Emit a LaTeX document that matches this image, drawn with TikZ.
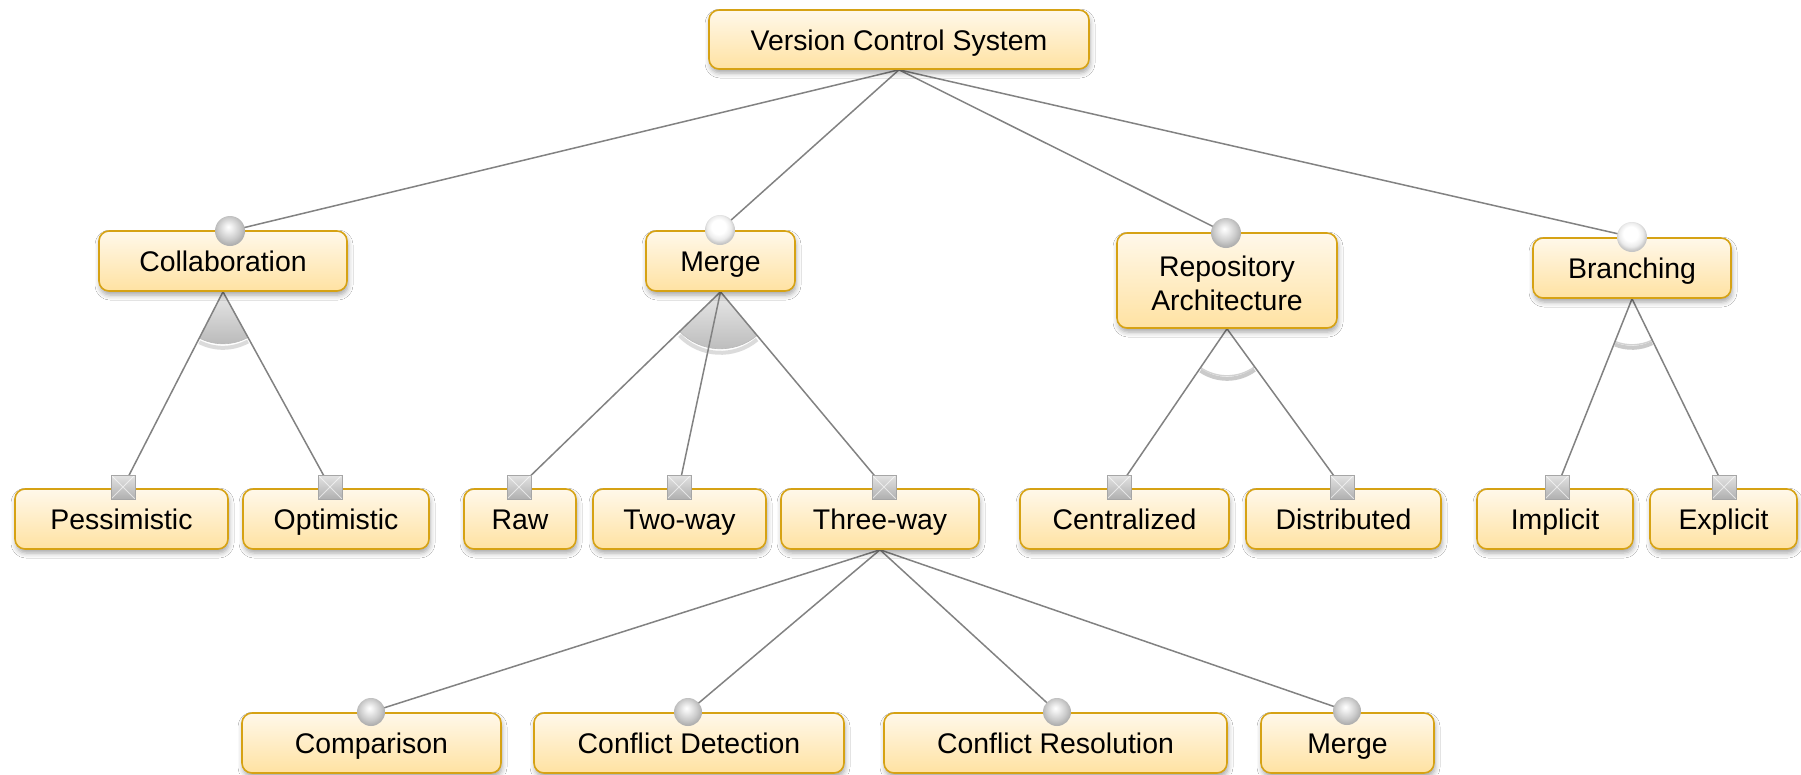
\documentclass[tikz,border=0pt]{standalone}
\usepackage{fontspec}
\setmainfont{Liberation Sans}
\usetikzlibrary{calc,shadows.blur,backgrounds}

\definecolor{featborder}{RGB}{214,162,20}
\definecolor{feattop}{RGB}{255,248,234}
\definecolor{featbot}{RGB}{255,226,162}
\definecolor{linkgray}{RGB}{130,130,130}

% shaded marker balls, lit from the top
\pgfdeclareradialshading{fmmandball}{\pgfpoint{-3bp}{7bp}}{%
  color(0bp)=(white); color(6bp)=(gray!12); color(18bp)=(gray!40);
  color(26bp)=(gray!62); color(50bp)=(gray!62)}
\pgfdeclareradialshading{fmoptball}{\pgfpoint{-3bp}{7bp}}{%
  color(0bp)=(white); color(12bp)=(white); color(20bp)=(gray!15);
  color(26bp)=(gray!45); color(50bp)=(gray!45)}

% filled group sector: apex, first child, last child, radius
\newcommand\fmsector[4]{%
  \path[sectorshadow] let \p1=($(#2)-(#1)$), \p2=($(#3)-(#1)$),
      \n1={atan2(\y1,\x1)}, \n2={atan2(\y2,\x2)} in
      ($(#1)+(\n1:#4)+(0,4)$) arc[start angle=\n1, end angle=\n2, radius=#4];
  \path[sectorfill] let \p1=($(#2)-(#1)$), \p2=($(#3)-(#1)$),
      \n1={atan2(\y1,\x1)}, \n2={atan2(\y2,\x2)} in
      (#1) -- ++(\n1:#4) arc[start angle=\n1, end angle=\n2, radius=#4] -- cycle;}
% open group arc: apex, first child, last child, radius
\newcommand\fmarc[4]{%
  \path[arcshadow] let \p1=($(#2)-(#1)$), \p2=($(#3)-(#1)$),
      \n1={atan2(\y1,\x1)}, \n2={atan2(\y2,\x2)} in
      ($(#1)+(\n1:#4)+(0,3)$) arc[start angle=\n1, end angle=\n2, radius=#4];
  \path[arcline] let \p1=($(#2)-(#1)$), \p2=($(#3)-(#1)$),
      \n1={atan2(\y1,\x1)}, \n2={atan2(\y2,\x2)} in
      ($(#1)+(\n1:#4)$) arc[start angle=\n1, end angle=\n2, radius=#4];}

\begin{document}
\begin{tikzpicture}[x=1pt,y=-1pt,
  feat/.style={draw=featborder, line width=1.6pt, rounded corners=10pt,
    top color=feattop, bottom color=featbot, minimum height=60pt,
    inner sep=0pt, align=center, font=\fontsize{28.4}{34}\selectfont,
    blur shadow={shadow xshift=1pt, shadow yshift=-4pt,
      shadow blur radius=5pt, shadow opacity=35}},
  oneline/.style={text height=24pt, text depth=2.5pt},
  twolines/.style={text height=61.5pt, text depth=2.5pt},
  link/.style={draw=linkgray, line width=1.5pt},
  mandball/.style={circle, inner sep=0pt, minimum size=30pt, shading=fmmandball},
  optball/.style={circle, inner sep=0pt, minimum size=30pt, shading=fmoptball},
  sqmark/.style={rectangle, inner sep=0pt, minimum size=24pt,
    draw=gray!70, line width=0.6pt, top color=gray!22, bottom color=gray!62,
    path picture={\draw[white, opacity=0.6, line width=0.8pt]
      (path picture bounding box.north west) -- (path picture bounding box.south east)
      (path picture bounding box.north east) -- (path picture bounding box.south west);}},
  sectorfill/.style={top color=gray!18, bottom color=gray!55, draw=gray!55, line width=0.6pt},
  sectorshadow/.style={draw=gray!50, line width=4pt, opacity=0.55},
  arcline/.style={draw=gray!35, line width=1.4pt},
  arcshadow/.style={draw=gray!55, line width=4pt, opacity=0.75}
]
\useasboundingbox (0,0) rectangle (1801,774);

% features
\node[feat, oneline, minimum width=380pt, minimum height=59pt] (root) at (899,39.5) {Version Control System};

\node[feat, oneline, minimum width=248pt] (collab) at (223,261) {Collaboration};
\node[feat, oneline, minimum width=149pt] (merge)  at (720.5,261) {Merge};
\node[feat, twolines, minimum width=220pt, minimum height=95pt] (repo) at (1227,280.5) {Repository\\Architecture};
\node[feat, oneline, minimum width=198pt] (branch) at (1632,268) {Branching};

\node[feat, oneline, minimum width=213pt] (pess)     at (121.5,519) {Pessimistic};
\node[feat, oneline, minimum width=186pt] (optim)    at (336,519)   {Optimistic};
\node[feat, oneline, minimum width=112pt] (raw)      at (520,519)   {Raw};
\node[feat, oneline, minimum width=173pt] (twoway)   at (679.5,519) {Two-way};
\node[feat, oneline, minimum width=198pt] (threeway) at (880,519)   {Three-way};
\node[feat, oneline, minimum width=209pt] (central)  at (1124.5,519) {Centralized};
\node[feat, oneline, minimum width=195pt] (distrib)  at (1343.5,519) {Distributed};
\node[feat, oneline, minimum width=156pt] (implicit) at (1555,519)  {Implicit};
\node[feat, oneline, minimum width=147pt] (explicit) at (1723.5,519) {Explicit};

\node[feat, oneline, minimum width=259pt] (comp)   at (371.5,743)  {Comparison};
\node[feat, oneline, minimum width=310pt] (cdet)   at (689,743)    {Conflict Detection};
\node[feat, oneline, minimum width=343pt] (cres)   at (1055.5,743) {Conflict Resolution};
\node[feat, oneline, minimum width=173pt] (mergeb) at (1347.5,743) {Merge};

% mandatory / optional markers
\node[mandball] (bcollab) at (230,231) {};
\node[optball]  (bmerge)  at (720,230) {};
\node[mandball] (brepo)   at (1226,233) {};
\node[optball]  (bbranch) at (1632,237) {};

\node[sqmark] (spess)     at (123,487) {};
\node[sqmark] (soptim)    at (330,487) {};
\node[sqmark] (sraw)      at (519,487) {};
\node[sqmark] (stwoway)   at (679,487) {};
\node[sqmark] (sthreeway) at (884,487) {};
\node[sqmark] (scentral)  at (1119,487) {};
\node[sqmark] (sdistrib)  at (1342,487) {};
\node[sqmark] (simplicit) at (1557,487) {};
\node[sqmark] (sexplicit) at (1724,487) {};

\node[mandball, minimum size=28pt] (bcomp)   at (371,712) {};
\node[mandball, minimum size=28pt] (bcdet)   at (688,712) {};
\node[mandball, minimum size=28pt] (bcres)   at (1057,712) {};
\node[mandball, minimum size=28pt] (bmergeb) at (1347,711) {};

\begin{scope}[on background layer]
  \fill[white] (0,0) rectangle (1801,774);
  % group symbols
  \fmsector{collab.south}{spess}{soptim}{52pt}
  \fmsector{merge.south}{sraw}{sthreeway}{57pt}
  \fmarc{repo.south}{scentral}{sdistrib}{47pt}
  \fmarc{branch.south}{simplicit}{sexplicit}{46pt}
  % connectors
  \draw[link] (root.south) -- (bcollab.center);
  \draw[link] (root.south) -- (bmerge.center);
  \draw[link] (root.south) -- (brepo.center);
  \draw[link] (root.south) -- (bbranch.center);
  \draw[link] (collab.south) -- (spess.center);
  \draw[link] (collab.south) -- (soptim.center);
  \draw[link] (merge.south) -- (sraw.center);
  \draw[link] (merge.south) -- (stwoway.center);
  \draw[link] (merge.south) -- (sthreeway.center);
  \draw[link] (repo.south) -- (scentral.center);
  \draw[link] (repo.south) -- (sdistrib.center);
  \draw[link] (branch.south) -- (simplicit.center);
  \draw[link] (branch.south) -- (sexplicit.center);
  \draw[link] (threeway.south) -- (bcomp.center);
  \draw[link] (threeway.south) -- (bcdet.center);
  \draw[link] (threeway.south) -- (bcres.center);
  \draw[link] (threeway.south) -- (bmergeb.center);
\end{scope}
\end{tikzpicture}
\end{document}
